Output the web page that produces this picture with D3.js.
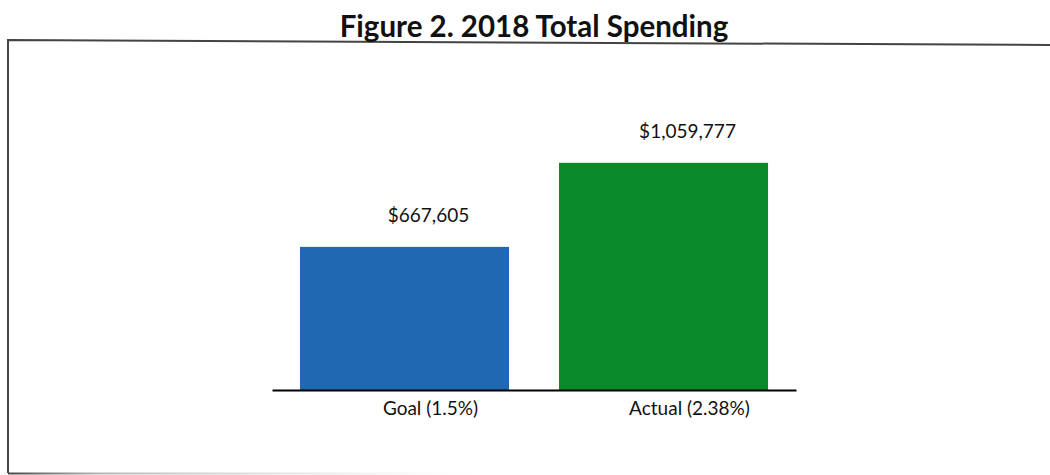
<!DOCTYPE html>
<html>
<head>
<meta charset="utf-8">
<script src="https://cdn.jsdelivr.net/npm/d3@7"></script>
<style>
  html, body { margin: 0; padding: 0; background: #fff; }
  svg { display: block; }
  text { font-family: Lato, "Open Sans", sans-serif; fill: #111; }
</style>
</head>
<body>
<div id="chart"></div>
<script>
// Spending goal versus actual spending for 2018
const categories = ["Goal (1.5%)", "Actual (2.38%)"];
const spending = [667605, 1059777];
const barColors = ["#1f69b3", "#0b8a2b"];
const title = "Figure 2. 2018 Total Spending";

const width = 1050, height = 475;

const svg = d3.select("#chart").append("svg")
  .attr("width", width)
  .attr("height", height);

// fading stroke for the lower edge of the frame
const grad = svg.append("defs").append("linearGradient")
  .attr("id", "edgeFade")
  .attr("gradientUnits", "userSpaceOnUse")
  .attr("x1", 8).attr("x2", 480).attr("y1", 0).attr("y2", 0);
grad.append("stop").attr("offset", 0).attr("stop-color", "#444").attr("stop-opacity", 1);
grad.append("stop").attr("offset", 0.2).attr("stop-color", "#888").attr("stop-opacity", 0.6);
grad.append("stop").attr("offset", 1).attr("stop-color", "#ccc").attr("stop-opacity", 0);

// frame around the chart area
svg.append("path")
  .attr("d", "M8,473 L8,40 L1050,45")
  .attr("fill", "none")
  .attr("stroke", "#444")
  .attr("stroke-width", 2);
svg.append("line")
  .attr("x1", 8).attr("x2", 480)
  .attr("y1", 473.5).attr("y2", 473.5)
  .attr("stroke", "url(#edgeFade)")
  .attr("stroke-width", 2);

svg.append("text")
  .attr("x", 534)
  .attr("y", 37)
  .attr("text-anchor", "middle")
  .attr("font-size", 29.5)
  .attr("font-weight", 700)
  .text(title);

const x = d3.scaleBand()
  .domain(categories)
  .range([272, 796])
  .paddingInner(0.193)
  .paddingOuter(0.108);

const y = d3.scaleLinear()
  .domain([0, 1600000])
  .range([390, 47]);

const fmt = d3.format("$,");

svg.selectAll("rect.bar")
  .data(categories)
  .join("rect")
  .attr("class", "bar")
  .attr("x", d => x(d))
  .attr("width", x.bandwidth())
  .attr("y", (d, i) => y(spending[i]))
  .attr("height", (d, i) => y(0) - y(spending[i]))
  .attr("fill", (d, i) => barColors[i]);

// value labels above the bars
svg.selectAll("text.value")
  .data(categories)
  .join("text")
  .attr("class", "value")
  .attr("x", d => x(d) + x.bandwidth() / 2 + 24)
  .attr("y", (d, i) => y(spending[i]) - 25)
  .attr("text-anchor", "middle")
  .attr("font-size", 19)
  .text((d, i) => fmt(spending[i]));

// category axis
const axis = svg.append("g")
  .attr("transform", `translate(0,${y(0)})`)
  .call(d3.axisBottom(x).tickSize(0).tickPadding(12).tickSizeOuter(0));
axis.select(".domain")
  .attr("stroke", "#000")
  .attr("stroke-width", 2);
axis.selectAll(".tick text")
  .attr("dx", 26)
  .attr("font-size", 19)
  .attr("font-family", "Lato, 'Open Sans', sans-serif")
  .attr("fill", "#111");
</script>
</body>
</html>
